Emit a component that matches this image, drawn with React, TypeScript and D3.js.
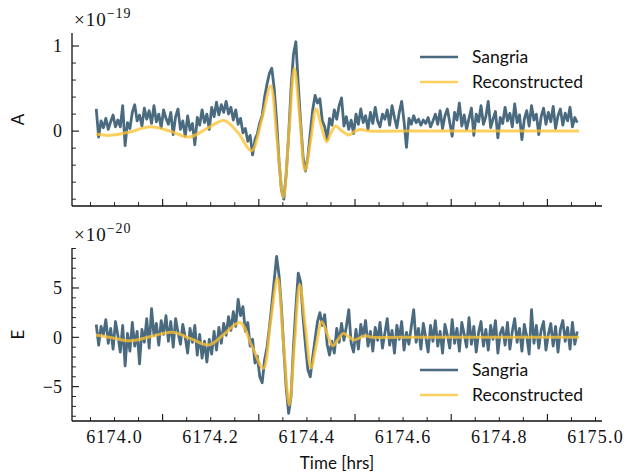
import React from "react";
import * as d3 from "d3";

const W = 627;
const H = 473;
const X0 = 72;
const X1 = 602;

// sample times of the Sangria series (hours)
const T_START = 6173.962;
const T_STEP = 0.005;

const sangriaA = [
  0.26, -0.07, 0.12, 0.04, 0.15, 0.02, 0.11, 0.19, 0.05, 0.13,
  0.05, 0.3, -0.17, 0.1, 0.03, 0.22, 0.31, 0.12, 0.19, 0.06,
  0.27, 0.14, 0.24, 0.09, 0.3, 0.11, 0.2, 0.04, 0.25, 0.15,
  0.08, 0.22, -0.04, 0.17, 0.26, 0.02, 0.12, -0.06, 0.18, 0.01,
  0.09, -0.16, 0.16, 0.07, 0.25, 0.1, 0.2, 0.02, 0.28, 0.17,
  0.34, 0.19, 0.31, 0.22, 0.35, 0.2, 0.28, 0.13, 0.25, 0.08,
  0.15, -0.02, 0.03, -0.12, -0.05, -0.28, -0.1, -0.03, 0.1, 0.18,
  0.4, 0.55, 0.68, 0.74, 0.5, 0.12, -0.35, -0.69, -0.8, -0.5,
  -0.05, 0.5, 0.9, 1.05, 0.55, 0.1, -0.3, -0.47, -0.3, -0.02,
  0.25, 0.42, 0.33, 0.38, 0.12, 0.05, -0.1, 0.15, 0.07, 0.25,
  0.14, 0.3, 0.39, 0.06, 0.17, 0.02, 0.13, -0.03, 0.2, 0.08,
  0.26, 0.1, 0.18, 0.02, 0.22, 0.09, 0.28, 0.12, 0.05, 0.2,
  0.14, 0.25, 0.07, 0.3, 0.16, 0.04, 0.22, 0.35, 0.11, -0.19,
  0.15, 0.08, 0.18, 0.1, 0.14, 0.07, 0.13, 0.09, 0.16, 0.05,
  0.12, 0.2, 0.08, 0.24, 0.03, 0.18, 0.26, 0.1, -0.06, 0.22,
  0.13, 0.33, 0.06, 0.19, 0.02, 0.15, 0.27, -0.05, 0.2, 0.11,
  0.3, 0.08, 0.17, 0.35, 0.04, 0.14, 0.23, -0.08, 0.16, 0.09,
  0.28, 0.12, 0.21, 0.05, 0.32, 0.1, 0.19, -0.1, 0.14, 0.24,
  0.06, 0.3, 0.13, 0.2, -0.04, 0.17, 0.27, 0.08, 0.22, 0.11,
  0.29, 0.03, 0.18, 0.26, 0.07, 0.21, 0.12, 0.28, 0.05, 0.16,
  0.1,
];

const sangriaE = [
  1.3, -0.8, 1.1, 0.3, 1.8, -0.6, 0.9, -1.2, 1.6, 0.2,
  -1.5, 1.2, -2.9, 0.4, -1.4, 1.5, -0.9, 0.6, -2.7, 0.8,
  -0.5, 1.9, -1.1, 2.9, 0.2, 1.4, -0.8, 1.7, 0.3, 2.2,
  -0.4, 1.6, -1.0, 1.9, 0.5, -0.7, 1.3, 0.0, -1.6, 0.9,
  -0.5, 1.2, -1.8, 0.3, -2.1, -0.4, -2.5, -0.2, -1.7, 0.6,
  -1.3, 1.0, -0.6, 1.4, 0.2, 2.1, 0.7, 2.6, 1.1, 3.85,
  2.2, 3.1, 0.6, 1.5, -0.9, -0.2, -2.6, -1.9, -4.0, -4.6,
  -2.3, -1.0, 1.0, 3.3, 5.8, 8.2, 6.3, 3.0, -1.3, -5.2,
  -7.7, -6.0, -1.0, 3.0, 6.5, 5.6, 2.0, -0.8, -3.3, -4.0,
  -2.0, -0.2, 1.6, 2.5, 1.2, 2.3, -0.7, -1.8, -0.4, -1.6,
  0.9, -0.5, 1.4, -0.3, 1.1, 2.8, -0.6, -1.5, 0.8, -1.2,
  1.3, 0.1, 1.7, -0.9, 0.6, -1.4, 1.0, -0.3, 1.5, -1.1,
  0.4, 1.9, -0.8, 0.7, -1.6, 1.2, -0.2, 1.6, -1.3, 0.5,
  -0.7, 1.1, 2.8, -0.5, 0.9, -1.2, 1.4, 0.0, -1.5, 1.2,
  -0.4, 1.7, -0.9, 0.6, -1.6, 1.3, 0.2, -1.1, 1.8, -0.6,
  0.9, -1.4, 1.5, 0.3, -1.0, 2.0, -0.7, 1.1, -1.5, 0.5,
  1.6, -0.9, 0.8, -1.3, 1.2, -0.2, 1.7, -1.6, 0.4, 1.0,
  -0.8, 1.5, -1.2, 0.6, 1.9, -0.5, 0.9, -1.4, 1.3, 0.1,
  -1.7, 2.8, -0.6, 1.2, -1.1, 0.7, 1.6, -1.3, 0.3, 1.4,
  -0.9, 1.1, -1.5, 0.8, 1.7, -0.4, 1.0, -1.2, 1.5, -0.7,
  0.6,
];

// Reconstructed waveforms (key points)
const reconATimes = [
  6173.9615, 6173.9906, 6174.0322, 6174.0738, 6174.1154, 6174.1549, 6174.1923,
  6174.2277, 6174.2568, 6174.2848, 6174.3067, 6174.3247, 6174.3378, 6174.3509,
  6174.3628, 6174.3738, 6174.3857, 6174.396, 6174.4085, 6174.4189, 6174.4304,
  6174.4412, 6174.4501, 6174.4595, 6174.473, 6174.4875, 6174.5, 6174.5104,
  6174.5312, 6174.5936, 6174.9657,
];
const reconAValues = [
  -0.035, -0.05, -0.01, 0.05, 0.0, -0.07, 0.03,
  0.125, -0.02, -0.23, 0.15, 0.53, -0.1, -0.78,
  0.0, 0.74, 0.12, -0.46, -0.08, 0.26, 0.05,
  -0.125, -0.02, 0.06, 0.0, -0.045, 0.0, 0.02,
  0.0, 0.0, 0.0,
];

const reconETimes = [
  6173.9615, 6173.9969, 6174.0322, 6174.0759, 6174.1195, 6174.158, 6174.1965,
  6174.2287, 6174.2609, 6174.285, 6174.3094, 6174.3241, 6174.3389, 6174.3509,
  6174.3632, 6174.374, 6174.385, 6174.3967, 6174.4085, 6174.4195, 6174.4308,
  6174.4422, 6174.4536, 6174.4647, 6174.4757, 6174.4871, 6174.4985, 6174.5096,
  6174.5208, 6174.5353, 6174.5936, 6174.9657,
];
const reconEValues = [
  0.23, -0.07, -0.36, 0.08, 0.52, -0.13, -0.78,
  0.36, 1.5, -0.82, -3.14, 1.43, 6.0, -0.4,
  -6.85, -0.75, 5.35, 1.1, -3.1, -0.76, 1.58,
  0.36, -0.85, -0.22, 0.4, 0.06, -0.27, -0.05,
  0.16, 0.0, 0.0, 0.0,
];

const xMajorTicks = [6174.0, 6174.2, 6174.4, 6174.6, 6174.8, 6175.0];
const seriesNames = ["Sangria", "Reconstructed"];
const sangriaColor = "#4a6a7f";
const reconColor = "#fcc232";
const reconOpacity = 0.78;

const serif = "'Liberation Serif', 'DejaVu Serif', serif";
const sans = "Lato, 'Open Sans', sans-serif";

const xScale = d3.scaleLinear().domain([6173.9116, 6175.0135]).range([X0, X1]);
const xMinor = d3.range(-1, 21).map((k) => 6174 + k * 0.05);

type PanelCfg = {
  top: number;
  bottom: number;
  domain: [number, number];
  majors: number[];
  minors: number[];
  exp: string;
  label: string;
  sangria: number[];
  rt: number[];
  rv: number[];
  legendY: number;
  showXLabels: boolean;
};

const panels: PanelCfg[] = [
  {
    top: 33,
    bottom: 206,
    domain: [-0.88, 1.153],
    majors: [0, 1],
    minors: d3.range(-4, 6).filter((k) => k !== 0 && k !== 5).map((k) => k * 0.2),
    exp: "\u221219",
    label: "A",
    sangria: sangriaA,
    rt: reconATimes,
    rv: reconAValues,
    legendY: 57,
    showXLabels: false,
  },
  {
    top: 248,
    bottom: 421,
    domain: [-8.48, 9.05],
    majors: [-5, 0, 5],
    minors: d3.range(-8, 10).filter((k) => k % 5 !== 0),
    exp: "\u221220",
    label: "E",
    sangria: sangriaE,
    rt: reconETimes,
    rv: reconEValues,
    legendY: 370,
    showXLabels: true,
  },
];

function fmtY(v: number) {
  return v < 0 ? "\u2212" + String(Math.abs(v)) : String(v);
}

function Panel({ p }: { p: PanelCfg }) {
  const y = d3.scaleLinear().domain(p.domain).range([p.bottom, p.top]);
  const sPts: [number, number][] = p.sangria.map((v, i) => [T_START + i * T_STEP, v]);
  const sLine = d3
    .line<[number, number]>()
    .x((d) => xScale(d[0]))
    .y((d) => y(d[1]));
  const rPts: [number, number][] = p.rt.map((t, i) => [t, p.rv[i]]);
  const rLine = d3
    .line<[number, number]>()
    .x((d) => xScale(d[0]))
    .y((d) => y(d[1]))
    .curve(d3.curveCatmullRom.alpha(0.5));
  const MAJ = 7;
  const MIN = 4;
  return (
    <g>
      <path d={sLine(sPts) || ""} fill="none" stroke={sangriaColor} strokeWidth={2.8} strokeLinejoin="round" />
      <path d={rLine(rPts) || ""} fill="none" stroke={reconColor} strokeOpacity={reconOpacity} strokeWidth={3} strokeLinejoin="round" />
      {/* spines */}
      <line x1={X0} x2={X0} y1={p.top} y2={p.bottom} stroke="#111" strokeWidth={1.3} />
      <line x1={X0} x2={X1} y1={p.bottom} y2={p.bottom} stroke="#111" strokeWidth={1.3} />
      {/* y ticks */}
      {p.majors.map((v) => (
        <g key={"ym" + v}>
          <line x1={X0} x2={X0 + MAJ} y1={y(v)} y2={y(v)} stroke="#111" strokeWidth={1.1} />
          <text x={62} y={y(v)} dy="0.35em" textAnchor="end" fontFamily={serif} fontSize={18} fill="#111">
            {fmtY(v)}
          </text>
        </g>
      ))}
      {p.minors.map((v) => (
        <line key={"yn" + v} x1={X0} x2={X0 + MIN} y1={y(v)} y2={y(v)} stroke="#111" strokeWidth={0.9} />
      ))}
      {/* x ticks */}
      {xMinor.map((t, k) => {
        const major = (k + 1) % 4 === 0;
        return (
          <line
            key={"xt" + k}
            x1={xScale(t)}
            x2={xScale(t)}
            y1={p.bottom}
            y2={p.bottom - (major ? MAJ : MIN)}
            stroke="#111"
            strokeWidth={major ? 1.1 : 0.9}
          />
        );
      })}
      {p.showXLabels &&
        xMajorTicks.map((t) => (
          <text key={"xl" + t} x={xScale(t)} y={443} textAnchor="middle" fontFamily={serif} fontSize={18} letterSpacing={1.2} fill="#111">
            {t.toFixed(1)}
          </text>
        ))}
      {/* offset text */}
      <text x={74} y={p.top - 7} fontFamily={serif} fontSize={19} letterSpacing={1} fill="#111">
        {"\u00d710"}
        <tspan dy={-8} fontSize={14} letterSpacing={1}>
          {p.exp}
        </tspan>
      </text>
      {/* y label */}
      <text
        transform={`translate(24,${(p.top + p.bottom) / 2}) rotate(-90)`}
        textAnchor="middle"
        fontFamily={sans}
        fontSize={17}
        fill="#111"
      >
        {p.label}
      </text>
      {/* legend */}
      {seriesNames.map((name, i) => (
        <g key={name}>
          <line
            x1={420}
            x2={458}
            y1={p.legendY + i * 25}
            y2={p.legendY + i * 25}
            stroke={i === 0 ? sangriaColor : reconColor}
            strokeOpacity={i === 0 ? 1 : reconOpacity}
            strokeWidth={2.6}
          />
          <text x={472} y={p.legendY + i * 25} dy="0.36em" fontFamily={sans} fontSize={17.5} fill="#111">
            {name}
          </text>
        </g>
      ))}
    </g>
  );
}

export default function App() {
  return (
    <svg
      width={W}
      height={H}
      viewBox={`0 0 ${W} ${H}`}
      style={{ position: "absolute", left: 0, top: 0, background: "#fff" }}
    >
      <rect width={W} height={H} fill="#fff" />
      {panels.map((p) => (
        <Panel key={p.label} p={p} />
      ))}
      <text x={(X0 + X1) / 2} y={469} textAnchor="middle" fontFamily={sans} fontSize={17} fill="#111">
        Time [hrs]
      </text>
    </svg>
  );
}
